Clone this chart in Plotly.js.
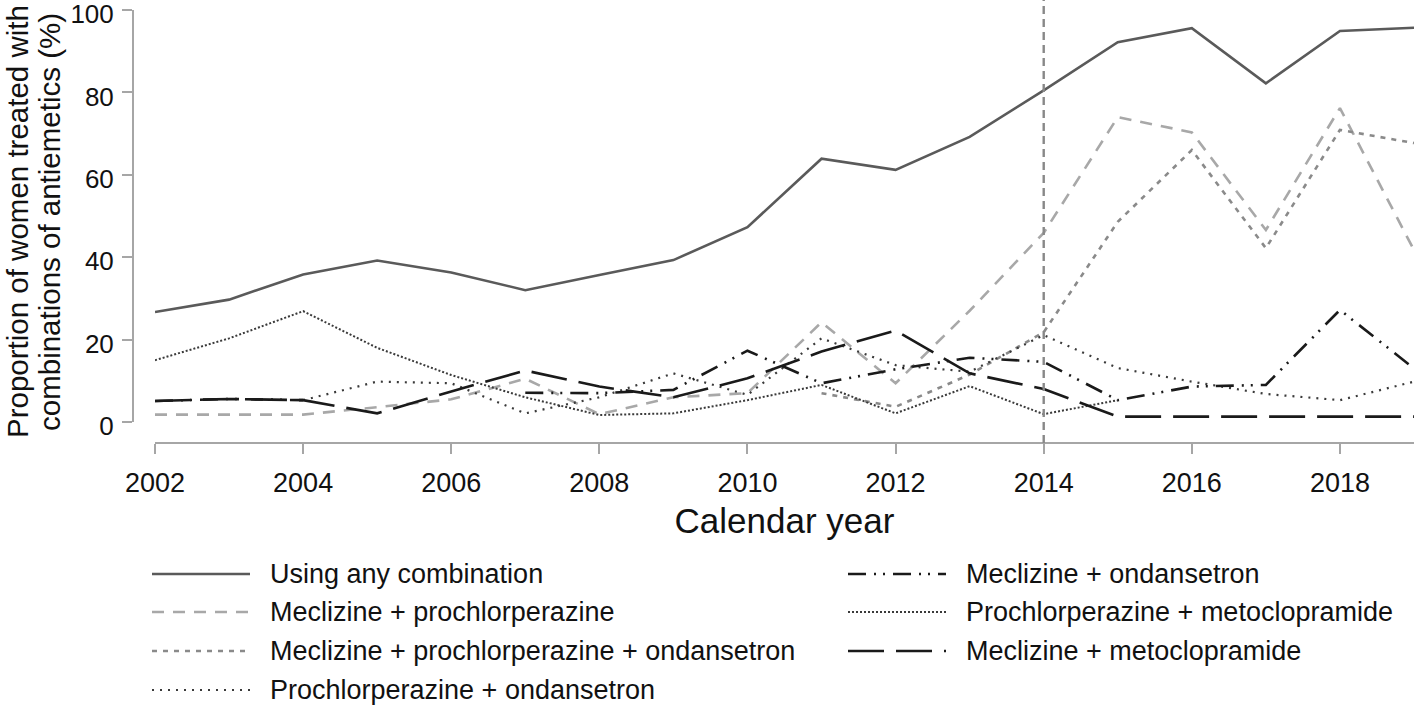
<!DOCTYPE html>
<html>
<head>
<meta charset="utf-8">
<script src="https://cdn.plot.ly/plotly-3.0.1.min.js"></script>
<style>html,body{margin:0;padding:0;background:#fff;}#chart{width:1416px;height:708px;}</style>
</head>
<body>
<div id="chart"></div>
<script>
// ---- data ----
const years = [2002,2003,2004,2005,2006,2007,2008,2009,2010,2011,2012,2013,2014,2015,2016,2017,2018,2019];
const anyCombination = [26.7,29.7,35.8,39.2,36.3,32.0,35.7,39.3,47.3,63.9,61.2,69.2,80.5,92.2,95.6,82.2,94.9,95.7];
const meclizineProchlorperazine = [1.8,1.8,1.8,3.6,5.5,10.5,1.9,6.0,7.0,24.2,9.4,27.0,45.9,74.0,70.3,46.6,76.2,41.7];
const meclizineProchlorperazineOndansetron = [null,null,null,null,null,null,null,null,null,7.0,3.7,11.5,21.8,48.6,66.0,42.2,70.9,67.7];
const prochlorperazineOndansetron = [null,null,5.3,9.8,9.4,2.1,6.0,11.8,6.6,20.3,13.8,12.2,21.1,13.1,9.8,6.8,5.3,9.8];
const meclizineOndansetron = [5.1,5.6,5.3,null,null,7.1,7.0,7.8,17.3,9.4,12.8,15.6,14.6,5.3,8.6,9.0,27.2,13.0];
const prochlorperazineMetoclopramide = [15.0,20.3,26.9,18.0,11.4,6.0,1.7,2.1,5.3,9.0,2.1,8.7,1.9,5.3,null,null,null,null];
const meclizineMetoclopramide = [5.1,5.6,5.3,2.1,7.4,12.5,8.6,6.0,10.6,17.1,22.2,11.8,8.0,1.3,1.3,1.3,1.3,1.3];
const seriesNames = [
  "Using any combination",
  "Meclizine + prochlorperazine",
  "Meclizine + prochlorperazine + ondansetron",
  "Prochlorperazine + ondansetron",
  "Meclizine + ondansetron",
  "Prochlorperazine + metoclopramide",
  "Meclizine + metoclopramide"
];
const xTickVals = [2002,2004,2006,2008,2010,2012,2014,2016,2018];
const yTickVals = [0,20,40,60,80,100];
const policyYear = 2014;
const xTitle = 'Calendar year';
const yTitleLines = ['Proportion of women treated with', 'combinations of antiemetics (%)'];

// ---- styles ----
const seriesValues = [anyCombination, meclizineProchlorperazine, meclizineProchlorperazineOndansetron,
  prochlorperazineOndansetron, meclizineOndansetron, prochlorperazineMetoclopramide, meclizineMetoclopramide];
const styles = [
  {color:'#5a5a5a', width:2.6, dash:'solid'},
  {color:'#a8a8a8', width:2.6, dash:'12px,9px'},
  {color:'#8a8a8a', width:2.6, dash:'5px,6px'},
  {color:'#3a3a3a', width:2.2, dash:'2px,6px'},
  {color:'#1a1a1a', width:2.6, dash:'18px,8px,2px,7px,2px,8px'},
  {color:'#3a3a3a', width:2.0, dash:'2px,2px'},
  {color:'#1a1a1a', width:2.6, dash:'36px,12px'}
];
const FONT = 'Liberation Sans, Arial, Helvetica, sans-serif';

const M = {l:133, r:2, t:10, b:265};
const PW = 1416 - M.l - M.r, PH = 708 - M.t - M.b;
const px = v => (v - M.l) / PW;
const py = v => (708 - M.b - v) / PH;

const traces = seriesValues.map((vals, i) => ({
  type:'scatter', mode:'lines', x: years, y: vals, name: seriesNames[i],
  line:{color:styles[i].color, width:styles[i].width, dash:styles[i].dash},
  connectgaps:false, showlegend:false, hoverinfo:'x+y+name'
}));

// manual legend (two columns)
const legendCols = [[0,1,2,3],[4,5,6]];
const colX = [152, 848];
const rowY = [574, 612, 651, 690];
const shapes = [{
  type:'line', xref:'x', yref:'paper', x0:policyYear, x1:policyYear, y0:0, y1:py(0),
  line:{color:'#888888', width:2.4, dash:'8px,5px'}
}];
const annotations = [];
legendCols.forEach((col, c) => col.forEach((si, r) => {
  shapes.push({type:'line', xref:'paper', yref:'paper', x0:px(colX[c]), x1:px(colX[c]+98),
    y0:py(rowY[r]), y1:py(rowY[r]),
    line:{color:styles[si].color, width:styles[si].width, dash:styles[si].dash}});
  annotations.push({xref:'paper', yref:'paper', x:px(colX[c]+116), y:py(rowY[r]),
    xanchor:'left', yanchor:'middle', showarrow:false, text:seriesNames[si],
    font:{family:FONT, size:27, color:'#111'}});
}));
// y-axis title, two rotated lines
[17, 49].forEach((xc, i) => annotations.push({
  xref:'paper', yref:'paper', x:px(xc), y:py(222), xanchor:'center', yanchor:'middle',
  textangle:-90, showarrow:false, text:yTitleLines[i],
  font:{family:FONT, size:29.5, color:'#111'}
}));

const axisCommon = {
  showgrid:false, zeroline:false, showline:true, linecolor:'#a6a6a6', linewidth:2,
  ticks:'outside', ticklen:10, tickwidth:2, tickcolor:'#a6a6a6', ticklabeloverflow:'allow',
  tickfont:{family:FONT, size:27, color:'#111'}, anchor:'free', position:0
};

const layout = {
  width:1416, height:708, margin:M, paper_bgcolor:'#fff', plot_bgcolor:'#fff',
  showlegend:false,
  xaxis: Object.assign({}, axisCommon, {
    domain:[px(155), 1], range:[2002, 2019], tickvals:xTickVals, ticklabelstandoff:6,
    title:{text:xTitle, font:{family:FONT, size:35, color:'#111'}, standoff:10}
  }),
  yaxis: Object.assign({}, axisCommon, {
    domain:[py(422), 1], range:[0, 100], tickvals:yTickVals, ticklabelstandoff:3,
    ticklabelshift:4, tickfont:{family:FONT, size:26, color:'#111'}
  }),
  shapes: shapes, annotations: annotations
};

Plotly.newPlot('chart', traces, layout, {displayModeBar:false, staticPlot:true});
</script>
</body>
</html>
